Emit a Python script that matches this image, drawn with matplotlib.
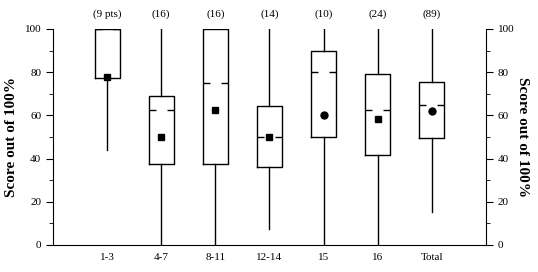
import numpy as np
import matplotlib
matplotlib.use("Agg")
import matplotlib.pyplot as plt

plt.rcParams['font.family'] = ['Liberation Serif', 'DejaVu Serif']

# data
groups = ["1-3", "4-7", "8-11", "12-14", "15", "16", "Total"]
counts = ["(9 pts)", "(16)", "(16)", "(14)", "(10)", "(24)", "(89)"]
whislo = [44, 0, 0, 7.5, 0, 0, 15.5]
q1 = [77.5, 37.5, 37.5, 36, 50, 41.5, 49.5]
med = [100, 62.5, 75, 50, 80, 62.5, 65]
q3 = [100, 69, 100, 64.3, 90, 79, 75.5]
whishi = [100, 100, 100, 100, 100, 100, 100]
means = [78, 50, 62.5, 50, 60, 58.5, 62]
mean_marker = ["s", "s", "s", "s", "o", "s", "o"]

fig = plt.figure(figsize=(5.38, 2.72), dpi=100)
ax = fig.add_axes([0.0985, 0.0993, 0.8048, 0.7941])

pos = np.arange(1, len(groups) + 1)
stats = []
for i in range(len(groups)):
    stats.append(dict(whislo=whislo[i], q1=q1[i], med=med[i], q3=q3[i],
                      whishi=whishi[i], label=groups[i]))

w = 0.46
ax.bxp(stats, positions=pos, widths=w, showfliers=False, showcaps=False,
       boxprops=dict(color="black", lw=1),
       whiskerprops=dict(color="black", lw=1),
       medianprops=dict(visible=False))

# dashed median: two short pieces with a gap in the middle
seg = 0.13
for p, m in zip(pos, med):
    ax.hlines(m, p - w / 2, p - w / 2 + seg, color="black", lw=1)
    ax.hlines(m, p + w / 2 - seg, p + w / 2, color="black", lw=1)

for p, m, mk in zip(pos, means, mean_marker):
    ax.plot(p, m, marker=mk, color="black", ms=4.5 if mk == "s" else 5, ls="none")

for p, c in zip(pos, counts):
    ax.text(p, 107, c, ha="center", va="center", fontsize=8, clip_on=False)

ax.set_xlim(0, 8)
ax.set_ylim(0, 100)
ax.set_xticks(pos)
ax.set_xticklabels(groups, fontsize=8)
ax.tick_params(axis="x", length=0, pad=6)
ax.set_yticks(np.arange(0, 101, 20))
ax.set_yticks(np.arange(10, 100, 20), minor=True)
ax.tick_params(axis="y", which="major", length=5, labelsize=8, direction="out",
               left=True, right=True, labelleft=True, labelright=True)
ax.tick_params(axis="y", which="minor", length=3, direction="out", left=True, right=True)
ax.spines["top"].set_visible(False)

ax.set_ylabel("Score out of 100%", fontsize=11, fontweight="bold", labelpad=5)
ax2 = ax.secondary_yaxis("right")
ax2.set_yticks([])
ax2.spines["right"].set_visible(False)
ax2.set_ylabel("Score out of 100%", fontsize=11, fontweight="bold",
               rotation=270, labelpad=31)

fig.savefig("out.png", dpi=100)
